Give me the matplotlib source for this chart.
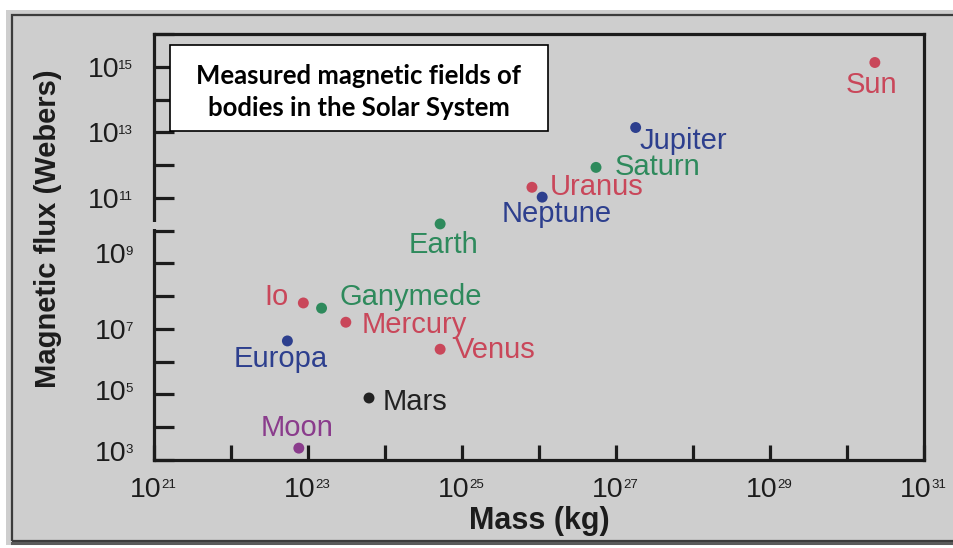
import matplotlib
matplotlib.use("Agg")
import matplotlib.pyplot as plt
from matplotlib.patches import Rectangle
from matplotlib.lines import Line2D
from matplotlib.ticker import FixedLocator, NullFormatter

# data
bodies = ["Sun", "Jupiter", "Saturn", "Uranus", "Neptune", "Earth", "Io",
          "Ganymede", "Mercury", "Europa", "Venus", "Mars", "Moon"]
mass_kg = [2.3e30, 1.8e27, 5.5e26, 8.1e25, 1.1e26, 5.2e24, 8.7e22,
           1.5e23, 3.1e23, 5.4e22, 5.2e24, 6.2e23, 7.6e22]
flux_wb = [1.35e15, 1.4e13, 8.5e11, 2.1e11, 1.05e11, 1.6e10, 6.2e7,
           4.3e7, 1.6e7, 4.3e6, 2.4e6, 7.8e4, 2.3e3]
body_colors = ["red", "blue", "green", "red", "blue", "green", "red",
               "green", "red", "blue", "red", "black", "purple"]

x_decades = list(range(21, 32))
y_decades = list(range(3, 17))
x_labelled = [21, 23, 25, 27, 29, 31]
y_labelled = [3, 5, 7, 9, 11, 13, 15]

# label placement (pixel offsets from the dot, alignment)
label_layout = {
    "Sun": (-3, -31, "center"),
    "Jupiter": (4, -21, "left"),
    "Saturn": (19, -8, "left"),
    "Uranus": (18, -8, "left"),
    "Neptune": (15, -25, "center"),
    "Earth": (3, -29, "center"),
    "Io": (-15, -2, "right"),
    "Ganymede": (18, 3, "left"),
    "Mercury": (16, -11, "left"),
    "Europa": (-7, -26, "center"),
    "Venus": (15, -9, "left"),
    "Mars": (14, -12, "left"),
    "Moon": (-2, 12, "center"),
}
# the scanned y labels sit a little off their ticks
y_label_nudge = {3: 9, 5: 4, 9: 10}

palette = {"red": "#c9475a", "blue": "#2d3f8e", "green": "#2e8a5c",
           "black": "#222222", "purple": "#8a3c8c"}
ink = "#1c1c1c"

plt.rcParams["font.family"] = "Liberation Sans"

W, H = 954, 548
fig = plt.figure(figsize=(W / 100, H / 100), dpi=100)
fig.patch.set_facecolor("white")


def fx(px):
    return px / W


def fy(py):
    return 1 - py / H


bg = "#cecece"
fig.add_artist(Rectangle((fx(6), fy(545)), 1.0, fy(10) - fy(545),
                         transform=fig.transFigure, fc=bg, ec="none", zorder=-10))
fig.add_artist(Rectangle((fx(12), fy(541)), 1.0, fy(15) - fy(541),
                         transform=fig.transFigure, fill=False, ec="#3c3c3c",
                         lw=1.6, zorder=-9))
fig.add_artist(Line2D([fx(12), 1.0], [fy(543), fy(543)], transform=fig.transFigure,
                      color="#5a5a5a", lw=2.2, zorder=-9))

ax = fig.add_axes([fx(154), fy(460), (924 - 154) / W, (460 - 34) / H])
ax.set_facecolor("none")
ax.set_xscale("log")
ax.set_yscale("log")
ax.set_xlim(10.0 ** x_decades[0], 10.0 ** x_decades[-1])
ax.set_ylim(10.0 ** y_decades[0], 10.0 ** y_decades[-1])

for sp in ax.spines.values():
    sp.set_linewidth(2.3)
    sp.set_color(ink)

ax.xaxis.set_major_locator(FixedLocator([10.0 ** e for e in x_decades]))
ax.yaxis.set_major_locator(FixedLocator([10.0 ** e for e in y_decades]))
ax.xaxis.set_minor_locator(FixedLocator([]))
ax.yaxis.set_minor_locator(FixedLocator([]))
ax.xaxis.set_major_formatter(NullFormatter())
ax.yaxis.set_major_formatter(NullFormatter())
ax.tick_params(axis="x", direction="in", length=11, width=2.3, color=ink)
ax.tick_params(axis="y", direction="in", length=14.5, width=2.3, color=ink)

# power-of-ten tick labels with a small raised exponent
base_size, exp_size = 20.5, 9.5
for e in y_labelled:
    exp_t = ax.annotate(str(e), xy=(0, 10.0 ** e), xycoords=ax.get_yaxis_transform(),
                        xytext=(-21, 7 + y_label_nudge.get(e, 0)),
                        textcoords="offset pixels", ha="right", va="top",
                        fontsize=exp_size, color=ink)
    ax.annotate("10", xy=(0, 1), xycoords=exp_t, xytext=(1, 3),
                textcoords="offset pixels", ha="right", va="top",
                fontsize=base_size, color=ink)
for e in x_labelled:
    ten_t = ax.annotate("10", xy=(10.0 ** e, 0), xycoords=ax.get_xaxis_transform(),
                        xytext=(7, -17), textcoords="offset pixels",
                        ha="right", va="top", fontsize=base_size, color=ink)
    ax.annotate(str(e), xy=(1, 1), xycoords=ten_t, xytext=(0, -2),
                textcoords="offset pixels", ha="left", va="top",
                fontsize=exp_size, color=ink)

ax.set_xlabel("Mass (kg)", fontsize=22, fontweight="bold", color=ink)
ax.set_ylabel("Magnetic flux (Webers)", fontsize=21, fontweight="bold", color=ink)
ax.xaxis.set_label_coords(0.5, -0.108)
ax.yaxis.set_label_coords(-0.119, 0.543)

cols = [palette[c] for c in body_colors]
ax.scatter(mass_kg, flux_wb, s=62, c=cols, edgecolors="none", zorder=4, clip_on=False)

for name, m, f, c in zip(bodies, mass_kg, flux_wb, cols):
    dx, dy, ha = label_layout[name]
    ax.annotate(name, (m, f), xytext=(dx, dy), textcoords="offset pixels",
                ha=ha, va="baseline", fontsize=21, color=c)

# small break in the scanned left spine
fig.add_artist(Rectangle((fx(150), fy(229)), fx(9), fy(222) - fy(229),
                         transform=fig.transFigure, fc=bg, ec="none", zorder=3))

fig.add_artist(Rectangle((fx(170), fy(131)), (548 - 170) / W, (131 - 45) / H,
                         transform=fig.transFigure, fc="white", ec="black",
                         lw=1.2, zorder=5))
fig.text(fx(359), fy(92), "Measured magnetic fields of\nbodies in the Solar System",
         ha="center", va="center", fontsize=18.5, fontweight="bold", family="Lato",
         linespacing=1.45, zorder=6)

fig.savefig("out.png", dpi=100)
